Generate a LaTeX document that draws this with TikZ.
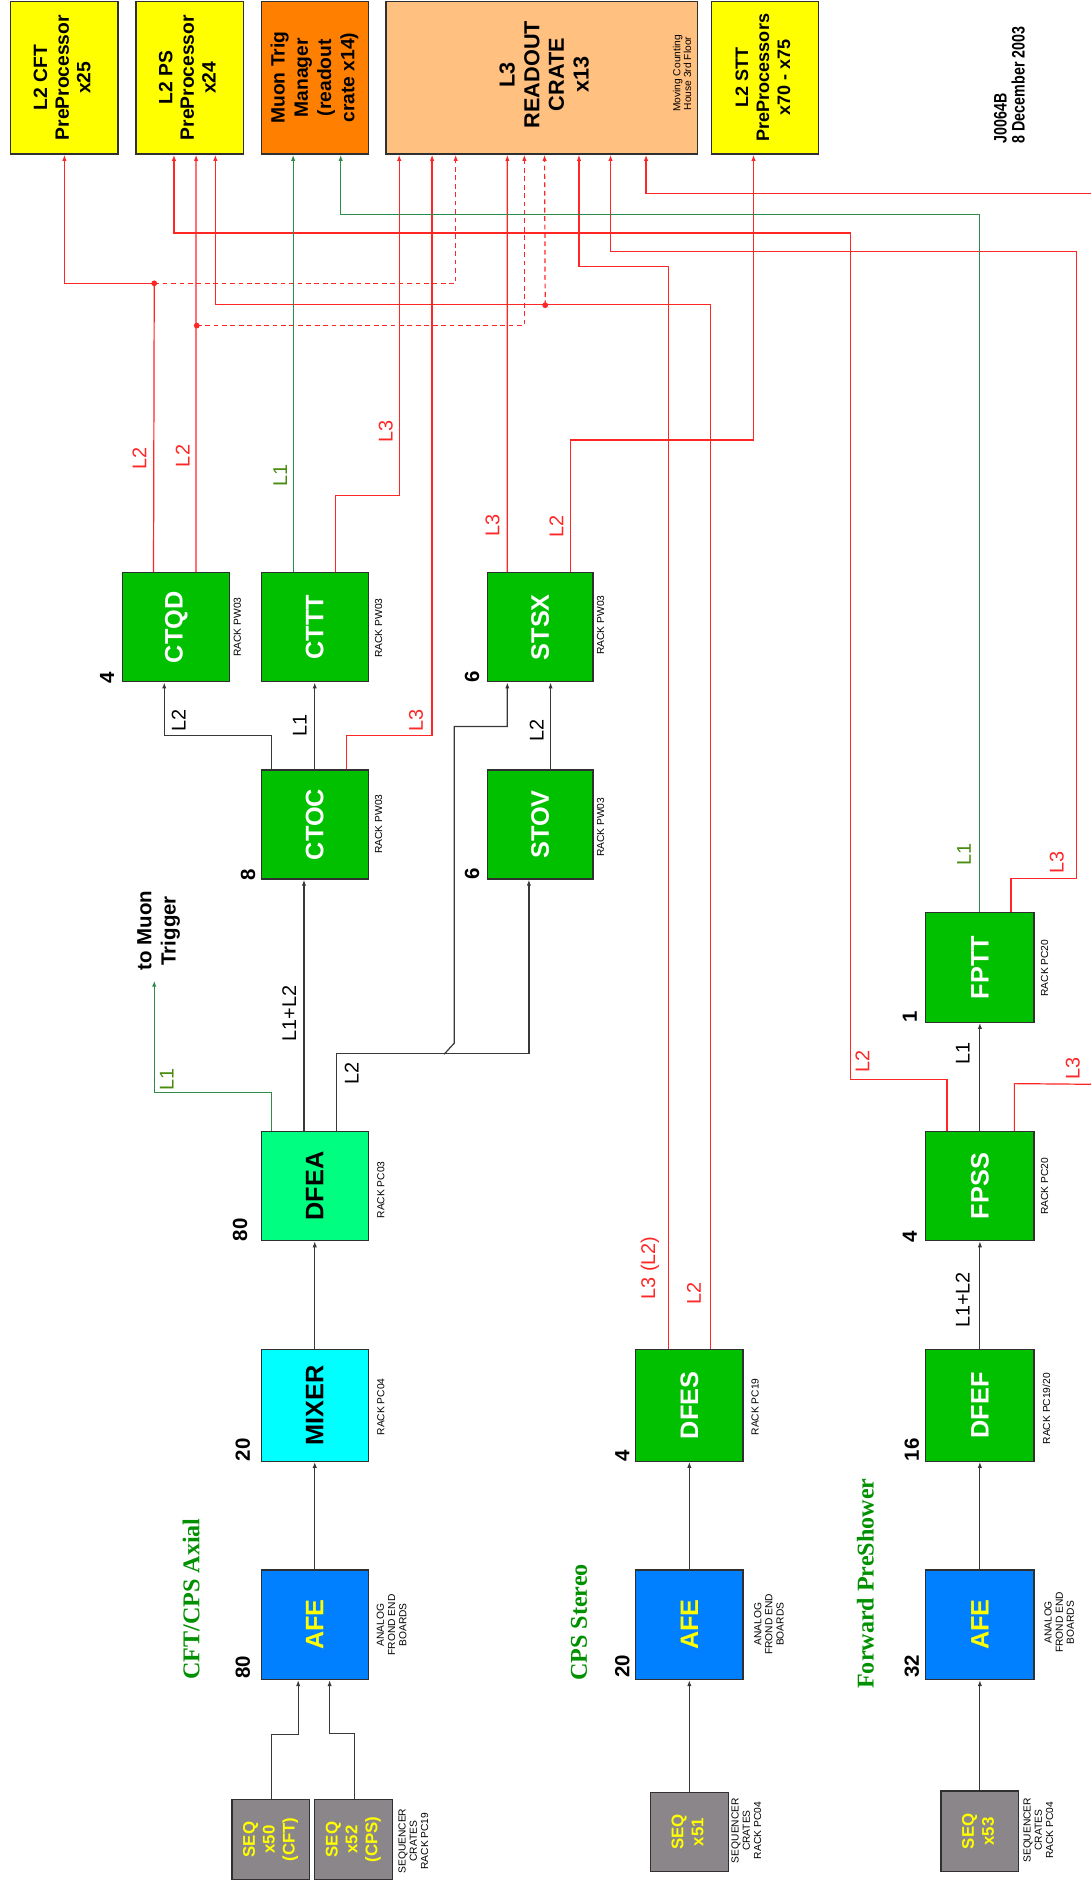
\documentclass[tikz,border=0pt]{standalone}
\usepackage{fontspec}
\setmainfont{Liberation Sans}
\newfontfamily\titleserif{Liberation Serif}
\usepackage{graphicx}
\usetikzlibrary{arrows.meta}
\definecolor{boxyellow}{HTML}{FFFF00}
\definecolor{muonorange}{HTML}{FF8000}
\definecolor{cratepeach}{HTML}{FFC080}
\definecolor{boardgreen}{HTML}{00C000}
\definecolor{dfeagreen}{HTML}{00FF80}
\definecolor{mixcyan}{HTML}{00FFFF}
\definecolor{afeblue}{HTML}{0080FF}
\definecolor{seqgray}{HTML}{8A868A}
\definecolor{sigred}{HTML}{FF2626}
\definecolor{siggreen}{HTML}{2E8B4A}
\definecolor{lblgreen}{HTML}{4A8C10}
\definecolor{titlegreen}{HTML}{009000}
\definecolor{edgegray}{HTML}{303030}
\definecolor{wiregray}{HTML}{383838}
\newcommand{\rtxt}[1]{\rotatebox{90}{\begin{tabular}{@{}c@{}}#1\end{tabular}}}
\tikzset{
  blk/.style={draw=edgegray, line width=1.1pt, inner sep=0pt},
  topbox/.style={blk, fill=boxyellow, minimum width=89pt, minimum height=127pt,
     font=\fontsize{16}{18}\selectfont\bfseries},
  namebox/.style={blk, minimum width=88.8pt, minimum height=90.5pt,
     font=\fontsize{21}{24}\selectfont\bfseries},
  board/.style={namebox, fill=boardgreen, text=white},
  afebox/.style={namebox, fill=afeblue, text=boxyellow, minimum height=91pt},
  seqbox/.style={blk, fill=seqgray, text=boxyellow, minimum width=64.5pt, minimum height=66pt,
     font=\fontsize{14}{16.5}\selectfont\bfseries},
  rl/.style={draw=sigred, line width=1pt},
  rla/.style={rl, -{Latex[length=5pt,width=3.6pt]}},
  rda/.style={rla, dash pattern=on 4pt off 3pt},
  gla/.style={draw=siggreen, line width=1pt, -{Latex[length=5pt,width=3.6pt]}},
  bla/.style={draw=wiregray, line width=1pt, -{Latex[length=5pt,width=3.6pt]}},
  bl/.style={draw=wiregray, line width=1pt},
  lab/.style={inner sep=0pt, rotate=90, font=\fontsize{16.5}{18}\selectfont},
  rlab/.style={lab, text=sigred},
  glab/.style={lab, text=lblgreen},
  blab/.style={lab, text=black},
  num/.style={inner sep=0pt, rotate=90, font=\fontsize{17}{19}\selectfont\bfseries},
  rack/.style={inner sep=0pt, rotate=90, align=center, font=\fontsize{8.5}{9.3}\selectfont},
  sect/.style={inner sep=0pt, rotate=90, text=titlegreen, font=\titleserif\fontsize{20}{22}\selectfont\bfseries},
}
\begin{document}
\begin{tikzpicture}[x=1pt,y=-1pt]
\useasboundingbox (0,0) rectangle (906,1568);
\fill[white] (0,0) rectangle (906,1568);

% ---------- top row ----------
\node[topbox] (l2cft) at (53.5,64.5) {\rtxt{L2 CFT\\PreProcessor\\x25}};
\node[topbox] (l2ps) at (157.5,64.5) {\rtxt{L2 PS\\PreProcessor\\x24}};
\node[topbox, fill=muonorange, font=\fontsize{16}{19.3}\selectfont\bfseries] (muon) at (261.5,64.5)
   {\rtxt{Muon Trig\\Manager\\(readout\\crate x14)}};
\node[topbox, fill=cratepeach, minimum width=259pt] (l3) at (450,64.5) {};
\node[inner sep=0pt, font=\fontsize{18}{20.5}\selectfont\bfseries] (l3txt) at (454,62)
   {\rtxt{L3\\READOUT\\CRATE\\x13}};
\node[rack, font=\fontsize{8.5}{9}\selectfont] (l3loc) at (566.5,61) {Moving Counting\\House 3rd Floor};
\node[topbox, font=\fontsize{15}{17.5}\selectfont\bfseries] (l2stt) at (635.25,64.5)
   {\rtxt{L2 STT\\PreProcessors\\x70 - x75}};
\node[inner sep=0pt, rotate=90, font=\fontsize{15}{13.2}\selectfont\bfseries] (date) at (840.2,70.5)
   {\scalebox{0.79}[1]{\begin{tabular}{@{}l@{}}J0064B\\8 December 2003\end{tabular}}};

% ---------- CFT/CPS axial chain ----------
\node[board] (ctqd) at (146.35,520.95) {\rotatebox{90}{CTQD}};
\node[board] (cttt) at (261.4,520.95) {\rotatebox{90}{CTTT}};
\node[board, minimum width=87.8pt] (stsx) at (448.6,520.95) {\rotatebox{90}{STSX}};
\node[board] (ctoc) at (261.4,684.75) {\rotatebox{90}{CTOC}};
\node[board, minimum width=87.8pt] (stov) at (448.6,684.75) {\rotatebox{90}{STOV}};
\node[namebox, fill=dfeagreen, text=black] (dfea) at (261.4,985.05) {\rotatebox{90}{DFEA}};
\node[namebox, fill=mixcyan, text=black, minimum height=92.5pt] (mixer) at (261.4,1167.25) {\rotatebox{90}{MIXER}};
\node[afebox] (afe1) at (261.4,1349.3) {\rotatebox{90}{AFE}};
\node[seqbox, minimum width=64pt, minimum height=66.1pt] (seq50) at (224.8,1527.75) {\rtxt{SEQ\\x50\\(CFT)}};
\node[seqbox, minimum width=64.6pt, minimum height=66.1pt] (seq52) at (293.6,1527.75) {\rtxt{SEQ\\x52\\(CPS)}};

% ---------- CPS stereo chain ----------
\node[board, minimum width=89.2pt, minimum height=92.5pt] (dfes) at (572.5,1167.25) {\rotatebox{90}{DFES}};
\node[afebox, minimum width=89.2pt] (afe2) at (572.5,1349.3) {\rotatebox{90}{AFE}};
\node[seqbox, minimum width=64.8pt] (seq51) at (572.5,1521.5) {\rtxt{SEQ\\x51}};

% ---------- forward preshower chain ----------
\node[board, minimum width=89.8pt, minimum height=91pt] (fptt) at (813.8,803.5) {\rotatebox{90}{FPTT}};
\node[board, minimum width=89.8pt] (fpss) at (813.8,985.05) {\rotatebox{90}{FPSS}};
\node[board, minimum width=89.8pt, minimum height=92.5pt] (dfef) at (813.8,1167.25) {\rotatebox{90}{DFEF}};
\node[afebox, minimum width=89.8pt] (afe3) at (813.8,1349.3) {\rotatebox{90}{AFE}};
\node[seqbox, minimum height=67pt] (seq53) at (813.8,1521) {\rtxt{SEQ\\x53}};

% ---------- junctions / free ends ----------
\coordinate (d1) at (128.1,235.3);
\coordinate (d2) at (163.4,270.4);
\coordinate (d3) at (452.8,253.5);
\coordinate (mu) at (128.1,814.4);
\coordinate (br) at (368.8,875.6);
\coordinate (offa) at (906,900.5);
\coordinate (offb) at (906,160.8);

% ---------- red (L2 / L3) connectors ----------
\draw[rl] ([xshift=26.1pt]ctqd.north west) -- (d1);
\draw[rla] (d1) -| (l2cft.south);
\draw[rda] (d1) -| ([xshift=58.5pt]l3.south west);
\draw[rla] ([xshift=61.4pt]ctqd.north west) -- ([xshift=50.4pt]l2ps.south west);
\draw[rda] (d2) -| ([xshift=115.5pt]l3.south west);
\draw[rla] ([xshift=62.4pt]cttt.north west) -- ++(0,-63.9) -| ([xshift=11.6pt]l3.south west);
\draw[rla] ([xshift=71.6pt]ctoc.north west) -- ++(0,-27.9) -| ([xshift=38.9pt]l3.south west);
\draw[rla] ([xshift=17.2pt]stsx.north west) -- ([xshift=101.4pt]l3.south west);
\draw[rla] ([xshift=69.5pt]stsx.north west) -- ++(0,-109.7) -| ([xshift=35.6pt]l2stt.south west);
\draw[rla] ([xshift=27.8pt]dfes.north west) -- ++(0,-899.3) -| ([xshift=160.9pt]l3.south west);
\draw[rla] ([xshift=62.9pt]dfes.north west) -- ++(0,-867.5) -| ([xshift=66.4pt]l2ps.south west);
\draw[rda] (d3) -- ([xshift=132.3pt]l3.south west);
\draw[rla] ([xshift=71.3pt]fptt.north west) -- ++(0,-27.7) -- ++(54.6,0) -- ++(0,-520.8)
   -| ([xshift=187.1pt]l3.south west);
\draw[rla] ([xshift=18.1pt]fpss.north west) -- ++(0,-42.9) -- ++(-80.1,0) -- ++(0,-702.9)
   -| ([xshift=32pt]l2ps.south west);
\draw[rl] ([xshift=74.1pt]fpss.north west) -- ++(0,-39.3) -- (offa);
\draw[rla] (offb) -| ([xshift=216.6pt]l3.south west);
\fill[sigred] (d1) circle (2.4pt) (d2) circle (2.4pt) (d3) circle (2.4pt);

% ---------- green (L1) connectors ----------
\draw[gla] ([xshift=27pt]cttt.north west) -- ([xshift=27pt]muon.south west);
\draw[gla] (fptt.north) -- ++(0,-579.5) -| ([xshift=66.5pt]muon.south west);
\draw[gla] ([xshift=9.3pt]dfea.north west) -- ++(0,-31.8) -| (mu);

% ---------- black connectors ----------
\draw[bla] ([xshift=9.3pt]ctoc.north west) -- ++(0,-27.9) -| ([xshift=35pt]ctqd.south west);
\draw[bla] (ctoc.north) -- (cttt.south);
\draw[bla] ([xshift=53.1pt]stov.north west) -- ([xshift=53.1pt]stsx.south west);
\draw[bla] ([xshift=36pt]dfea.north west) -- ([xshift=36pt]ctoc.south west);
\draw[bla] ([xshift=63.2pt]dfea.north west) -- ++(0,-64.2) -| ([xshift=35.1pt]stov.south west);
\draw[bla] (br) -- ++(8.4,-9.2) -- ++(0,-263) -| ([xshift=17.2pt]stsx.south west);
\draw[bla] (mixer.north) -- (dfea.south);
\draw[bla] (afe1.north) -- (mixer.south);
\draw[bla] ([xshift=33.2pt]seq50.north west) -- ++(0,-53.8) -| ([xshift=31.2pt]afe1.south west);
\draw[bla] ([xshift=33.8pt]seq52.north west) -- ++(0,-54.7) -| ([xshift=57.3pt]afe1.south west);
\draw[bla] (afe2.north) -- (dfes.south);
\draw[bla] (seq51.north) -- (afe2.south);
\draw[bla] (fpss.north) -- (fptt.south);
\draw[bla] (dfef.north) -- (fpss.south);
\draw[bla] (afe3.north) -- (dfef.south);
\draw[bla] (seq53.north) -- (afe3.south);

% ---------- connector labels ----------
\node[rlab] (t1) at (115.7,381) {L2};
\node[rlab] (t2) at (151.8,378.7) {L2};
\node[glab] (t3) at (232.8,395) {L1};
\node[rlab] (t4) at (320.3,358.7) {L3};
\node[blab] (t5) at (148.3,598.6) {L2};
\node[blab] (t6) at (249,602.4) {L1};
\node[rlab] (t7) at (345.5,598.6) {L3};
\node[rlab] (t8) at (409,436.6) {L3};
\node[rlab] (t9) at (462.1,437) {L2};
\node[blab] (t10) at (445.7,606.6) {L2};
\node[blab] (t11) at (240.2,841.5) {L1+L2};
\node[glab] (t12) at (138.5,896.3) {L1};
\node[blab] (t13) at (292.1,891.3) {L2};
\node[rlab] (t14) at (539.8,1053) {L3 (L2)};
\node[rlab] (t15) at (576.4,1074) {L2};
\node[glab] (t16) at (800.7,709.9) {L1};
\node[rlab] (t17) at (877.6,716.2) {L3};
\node[blab] (t18) at (799.5,874.7) {L1};
\node[rlab] (t19) at (716.3,881.7) {L2};
\node[rlab] (t20) at (891,887.2) {L3};
\node[blab] (t21) at (799.5,1079.6) {L1+L2};
\node[inner sep=0pt, rotate=90, align=center, font=\fontsize{17}{20.2}\selectfont\bfseries] (tomuon)
   at (131.7,773) {to Muon\\Trigger};

% ---------- board counts ----------
\node[num] (n1) at (89,563) {4};
\node[num] (n2) at (206,726.7) {8};
\node[num] (n3) at (392,562.1) {6};
\node[num] (n4) at (392,725.8) {6};
\node[num] (n5) at (199.3,1021.4) {80};
\node[num] (n6) at (201.7,1204.2) {20};
\node[num] (n7) at (201.7,1384.8) {80};
\node[num] (n8) at (516.9,1208.8) {4};
\node[num] (n9) at (516.9,1384) {20};
\node[num] (n10) at (755.7,844.3) {1};
\node[num] (n11) at (755.7,1027) {4};
\node[num] (n12) at (757.3,1204.2) {16};
\node[num] (n13) at (757.3,1384) {32};

% ---------- rack notes ----------
\node[rack] (r1) at (197.2,520.8) {RACK PW03};
\node[rack] (r2) at (314.4,521.7) {RACK PW03};
\node[rack] (r3) at (314.4,684.4) {RACK PW03};
\node[rack] (r4) at (498.7,519.2) {RACK PW03};
\node[rack] (r5) at (498.7,687) {RACK PW03};
\node[rack] (r6) at (316.4,988.2) {RACK PC03};
\node[rack] (r7) at (316.4,1168.4) {RACK PC04};
\node[rack] (r8) at (627.1,1168.4) {RACK PC19};
\node[rack] (r9) at (869,1169.9) {RACK PC19/20};
\node[rack] (r10) at (867.5,804) {RACK PC20};
\node[rack] (r11) at (867.5,985.4) {RACK PC20};
\node[rack] (a1) at (325.2,1349.5) {ANALOG\\FROND END\\BOARDS};
\node[rack] (a2) at (638.6,1349) {ANALOG\\FROND END\\BOARDS};
\node[rack] (a3) at (879.7,1347.4) {ANALOG\\FROND END\\BOARDS};
\node[rack] (s1) at (343.3,1529) {SEQUENCER\\CRATES\\RACK PC19};
\node[rack] (s2) at (619.9,1520.3) {SEQUENCER\\CRATES\\RACK PC04};
\node[rack] (s3) at (862.4,1520) {SEQUENCER\\CRATES\\RACK PC04};

% ---------- section titles ----------
\node[sect] (sec1) at (158.7,1328) {CFT/CPS Axial};
\node[sect] (sec2) at (480.9,1347.4) {CPS Stereo};
\node[sect] (sec3) at (718.8,1315.2) {Forward PreShower};
\end{tikzpicture}
\end{document}
